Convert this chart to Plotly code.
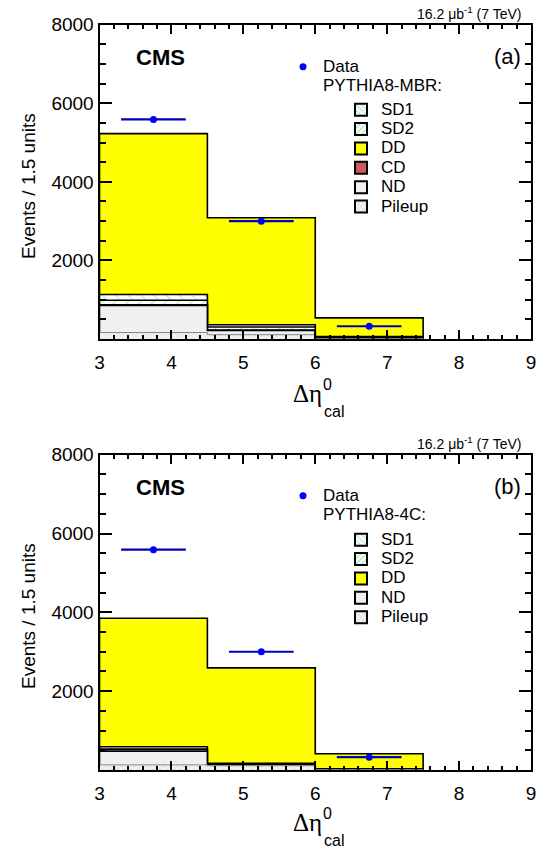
import plotly.graph_objects as go

# ---------------- data ----------------
bin_edges = [3.0, 4.5, 6.0, 7.5]
bin_centers = [3.75, 5.25, 6.75]
data_x_err = [0.45, 0.45, 0.45]
data_counts = [5590, 3000, 325]

# panel (a) PYTHIA8-MBR components (events / 1.5 units)
mbr_pileup = [165, 110, 8]
mbr_nd = [688, 107, 10]
mbr_cd = [15, 8, 2]
mbr_sd2 = [120, 80, 20]
mbr_sd1 = [146, 59, 25]
mbr_dd = [4094, 2724, 472]

# panel (b) PYTHIA8-4C components
c4_pileup = [130, 110, 8]
c4_nd = [350, 25, 5]
c4_sd2 = [50, 12, 8]
c4_sd1 = [60, 20, 9]
c4_dd = [3260, 2423, 383]

x_ticks = [3, 4, 5, 6, 7, 8, 9]
y_ticks = [2000, 4000, 6000, 8000]

W, H = 546, 858
FONT = "Liberation Sans, Arial, sans-serif"
SERIF = "Liberation Serif, Times New Roman, serif"

def px(x):
    return x / W

def py(y):
    return 1 - y / H

STYLE = {
    "DD": dict(color="#ffff00", pattern=None),
    "SD1": dict(color="white", pattern=dict(shape="\\", fgcolor="#7ec4a0", bgcolor="white", size=9, solidity=0.12)),
    "SD2": dict(color="white", pattern=dict(shape="/", fgcolor="#4fcc4f", bgcolor="white", size=9, solidity=0.12)),
    "CD": dict(color="#cd5c5c", pattern=None),
    "ND": dict(color="#f0f0f0", pattern=None),
    "Pileup": dict(color="#eeeeee", pattern=dict(shape="x", fgcolor="#b8b8b8", bgcolor="#f2f2f2", size=5, solidity=0.2)),
}

LEG_TXT = '<span style="font-size:17px">%s</span>'

fig = go.Figure()


def cumulate(components):
    tot = [0, 0, 0]
    out = []
    for name, vals in components:
        tot = [a + b for a, b in zip(tot, vals)]
        out.append((name, list(tot)))
    return out


def add_stack(components, xa, ya):
    cum = cumulate(components)  # bottom -> top
    for name, tot in reversed(cum):
        st = STYLE[name]
        xs = [bin_edges[0]] + bin_edges[:3] + [bin_edges[3], bin_edges[3]]
        ys = [0] + tot + [tot[-1], 0]
        kw = dict(fillcolor=st["color"])
        if st["pattern"] is not None:
            kw["fillpattern"] = st["pattern"]
        lc = "#888888" if name == "Pileup" else "black"
        lw = 1 if name == "Pileup" else 1.6
        fig.add_trace(go.Scatter(
            x=xs, y=ys, mode="lines", line=dict(color=lc, width=lw, shape="hv"),
            fill="toself", showlegend=False, hoverinfo="skip", xaxis=xa, yaxis=ya, **kw))


def add_data(xa, ya, legend, header):
    fig.add_trace(go.Scatter(
        x=bin_centers, y=data_counts, mode="markers", name=LEG_TXT % "Data",
        marker=dict(color="#0000ff", size=7),
        error_x=dict(type="data", array=data_x_err, color="#0000b4", thickness=2.2, width=0),
        showlegend=True, legend=legend, xaxis=xa, yaxis=ya))
    fig.add_trace(go.Scatter(x=[None], y=[None], mode="none", name=LEG_TXT % header,
                             showlegend=True, legend=legend, xaxis=xa, yaxis=ya))


def add_legend_swatches(names, xa, ya, legend):
    for n in names:
        st = STYLE[n]
        mk = dict(color=st["color"], line=dict(color="black", width=2))
        if st["pattern"] is not None:
            p = dict(st["pattern"])
            p["size"] = 5
            p["solidity"] = 0.3
            mk["pattern"] = p
        fig.add_trace(go.Bar(x=[None], y=[None], name=LEG_TXT % n, marker=mk, legend=legend,
                             showlegend=True, xaxis=xa, yaxis=ya))


add_stack([("Pileup", mbr_pileup), ("ND", mbr_nd), ("CD", mbr_cd),
           ("SD2", mbr_sd2), ("SD1", mbr_sd1), ("DD", mbr_dd)], "x", "y")
add_data("x", "y", "legend3", "PYTHIA8-MBR:")
add_legend_swatches(["SD1", "SD2", "DD", "CD", "ND", "Pileup"], "x", "y", "legend")

add_stack([("Pileup", c4_pileup), ("ND", c4_nd),
           ("SD2", c4_sd2), ("SD1", c4_sd1), ("DD", c4_dd)], "x2", "y2")
add_data("x2", "y2", "legend4", "PYTHIA8-4C:")
add_legend_swatches(["SD1", "SD2", "DD", "ND", "Pileup"], "x2", "y2", "legend2")

xdom = [px(99.5), px(531)]
ydom_a = [py(339.0), py(24.7)]
ydom_b = [py(770.0), py(454.7)]

def xaxis(anchor):
    return dict(domain=xdom, anchor=anchor, range=[3, 9], tickvals=x_ticks,
                ticks="inside", ticklen=9, tickwidth=1.5, tickcolor="black",
                showline=True, linewidth=2, linecolor="black", mirror="ticks",
                showgrid=False, zeroline=False, fixedrange=True, automargin=False,
                tickfont=dict(family=FONT, size=19, color="black"),
                minor=dict(dtick=0.2, tick0=3, ticks="inside", ticklen=4.5, tickwidth=1.5,
                           tickcolor="black", showgrid=False),
                ticklabelstandoff=5)

def yaxis(anchor, dom):
    return dict(domain=dom, anchor=anchor, range=[0, 8000], tickvals=y_ticks,
                ticks="inside", ticklen=12, tickwidth=1.5, tickcolor="black",
                showline=True, linewidth=2, linecolor="black", mirror="ticks",
                showgrid=False, zeroline=False, fixedrange=True, automargin=False,
                tickfont=dict(family=FONT, size=19, color="black"),
                minor=dict(dtick=500, tick0=0, ticks="inside", ticklen=6, tickwidth=1.5,
                           tickcolor="black", showgrid=False),
                ticklabelstandoff=0)

leg_common = dict(xanchor="left", yanchor="top", font=dict(family=FONT, size=12.6, color="black"),
                  bgcolor="rgba(0,0,0,0)", borderwidth=0, tracegroupgap=0,
                  itemclick=False, itemdoubleclick=False)

fig.update_layout(
    width=W, height=H, margin=dict(l=0, r=0, t=0, b=0, pad=0, autoexpand=False),
    paper_bgcolor="white", plot_bgcolor="white",
    font=dict(family=FONT, color="black"),
    xaxis=xaxis("y"), yaxis=yaxis("x", ydom_a),
    xaxis2=xaxis("y2"), yaxis2=yaxis("x2", ydom_b),
    legend=dict(x=px(341), y=py(95), **leg_common),
    legend2=dict(x=px(341), y=py(525), **leg_common),
    legend3=dict(x=px(283), y=py(52), **leg_common),
    legend4=dict(x=px(283), y=py(481), **leg_common),
    showlegend=True,
)

ann = []

def text(x, y, s, size, xanchor="left", yanchor="middle", family=FONT, angle=0, color="black"):
    ann.append(dict(x=px(x), y=py(y), xref="paper", yref="paper", text=s, showarrow=False,
                    xanchor=xanchor, yanchor=yanchor, textangle=angle, borderpad=0,
                    font=dict(family=family, size=size, color=color)))

for off, tag in [(0, "(a)"), (430, "(b)")]:
    text(522, 13 + off, "16.2 μb<sup>-1</sup> (7 TeV)", 14, xanchor="right")
    text(160.5, 57 + off, "<b>CMS</b>", 22, xanchor="center")
    text(507, 56 + off, tag, 22, xanchor="center")
    ax_y = 340.4 if off == 0 else 769.5
    text(28, 112 + off, "Events / 1.5 units", 19, xanchor="center", yanchor="top", angle=-90)
    text(292, ax_y + 53, "Δη", 25, family=SERIF)
    text(322, ax_y + 44, "0", 16)
    text(323, ax_y + 71, "cal", 16)

fig.update_layout(annotations=ann)
fig.write_html("out.html", config={"displayModeBar": False, "staticPlot": False},
               post_script="document.body.style.margin='0';document.body.style.padding='0';")
